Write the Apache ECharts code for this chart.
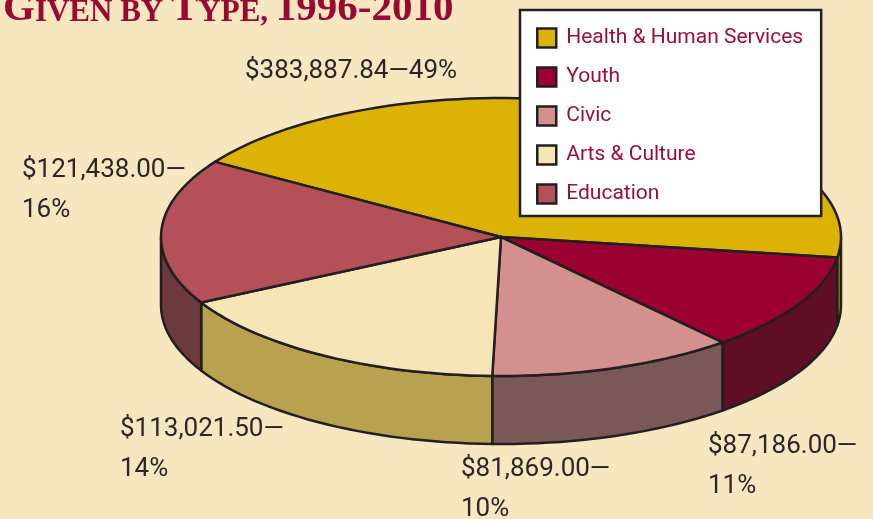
<!DOCTYPE html>
<html lang="en">
<head>
<meta charset="utf-8"/>
<title>Given by Type, 1996-2010</title>
<script src="https://cdn.jsdelivr.net/npm/echarts@6/dist/echarts.min.js"></script>
<style>
    html, body { margin: 0; padding: 0; background: #f6e7c1; }
    #main { width: 873px; height: 519px; }
</style>
</head>
<body>
<div id="main"></div>
<script>
    // values
    const categories = ['Health & Human Services', 'Youth', 'Civic', 'Arts & Culture', 'Education'];
    const amounts = [383887.84, 87186.00, 81869.00, 113021.50, 121438.00];
    const percents = [49, 11, 10, 14, 16];

    const topColors = ['#dcb206', '#9a0030', '#d4908e', '#f6e5b7', '#b45057'];
    const sideColors = ['#b08e05', '#5e0f26', '#7b5858', '#b8a24f', '#6c393c'];
    // label box [left, top, wrap percent onto second line]
    const labelLayout = [[245, 51, false], [708, 426, true], [461, 449, true], [120, 409, true], [22, 150, true]];

    const OUTLINE = '#231f20';
    const CX = 501, CY = 237, RX = 340, RY = 139, DEPTH = 68;
    const START = 202.8;                // where the first slice starts (deg, clockwise from 3 o'clock)
    const WARP = 10, WARP_PHASE = 30;   // angle distortion of the tilted 3d view
    const total = amounts.reduce((a, b) => a + b, 0);

    function toT(theta) {
        return theta - WARP * Math.cos((theta - WARP_PHASE) * Math.PI / 180);
    }
    function pt(t, dy) {
        const r = t * Math.PI / 180;
        return [CX + RX * Math.cos(r), CY + RY * Math.sin(r) + dy];
    }
    function arc(t1, t2, dy) {
        const pts = [];
        const n = Math.max(2, Math.ceil((t2 - t1) / 2));
        for (let k = 0; k <= n; k++) pts.push(pt(t1 + (t2 - t1) * k / n, dy));
        return pts;
    }
    function money(v) {
        return '$' + v.toLocaleString('en-US', { minimumFractionDigits: 2, maximumFractionDigits: 2 });
    }

    function renderSlice(i) {
        return function (params, api) {
            const before = amounts.slice(0, i).reduce((a, b) => a + b, 0);
            const th1 = START + before / total * 360;
            const th2 = START + (before + api.value(0)) / total * 360;
            const t1 = toT(th1), t2 = toT(th2);
            const line = { stroke: OUTLINE, lineWidth: 2.5, lineJoin: 'round' };
            const children = [];
            // side wall, only the part facing the viewer
            for (let base = 0; base <= 720; base += 360) {
                const a = Math.max(t1, base), b = Math.min(t2, base + 180);
                if (b > a) {
                    const pts = arc(a, b, 0).concat(arc(a, b, DEPTH).reverse());
                    children.push({ type: 'polygon', z2: 1, shape: { points: pts },
                        style: Object.assign({ fill: sideColors[i] }, line) });
                }
            }
            children.push({ type: 'polygon', z2: 10, shape: { points: [[CX, CY]].concat(arc(t1, t2, 0)) },
                style: Object.assign({ fill: topColors[i] }, line) });
            const lay = labelLayout[i];
            children.push({ type: 'text', z2: 20, x: lay[0], y: lay[1],
                style: {
                    text: money(api.value(0)) + '\u2014' + (lay[2] ? '\n' : '') + percents[i] + '%',
                    fontFamily: 'Roboto, sans-serif', fontSize: 26,
                    lineHeight: 40, fill: '#2b2727', verticalAlign: 'top'
                } });
            return { type: 'group', children: children };
        };
    }

    const chart = echarts.init(document.getElementById('main'));
    const option = {
        backgroundColor: '#f6e7c1',
        animation: false,
        title: {
            text: '{b|G}{s|IVEN BY }{b|T}{s|YPE, }{b|1996-2010}',
            left: 3, top: -11, padding: 0,
            textStyle: {
                rich: {
                    b: { fontFamily: '"Liberation Serif", serif', fontWeight: 'bold', fontSize: 41,
                         lineHeight: 41, color: '#990a33', verticalAlign: 'bottom' },
                    s: { fontFamily: '"Liberation Serif", serif', fontWeight: 'bold', fontSize: 31,
                         lineHeight: 31, color: '#990a33', verticalAlign: 'bottom', padding: [0, 0, 2, 0] }
                }
            }
        },
        legend: {
            data: categories,
            orient: 'vertical', left: 520, top: 10,
            icon: 'rect', itemWidth: 19, itemHeight: 19, itemGap: 15,
            itemStyle: { borderColor: OUTLINE, borderWidth: 2.5 },
            padding: [16, 18, 10, 16],
            backgroundColor: '#ffffff', borderColor: OUTLINE, borderWidth: 2.5, borderRadius: 0,
            selectedMode: false,
            textStyle: { fontFamily: 'Roboto, sans-serif', fontSize: 21,
                         lineHeight: 24, color: '#9b0d3a', padding: [0, 0, 0, 5] }
        },
        series: categories.map((name, i) => ({
            type: 'custom',
            name: name,
            coordinateSystem: 'none',
            itemStyle: { color: topColors[i] },
            data: [amounts[i]],
            renderItem: renderSlice(i)
        }))
    };
    chart.setOption(option);
</script>
</body>
</html>
